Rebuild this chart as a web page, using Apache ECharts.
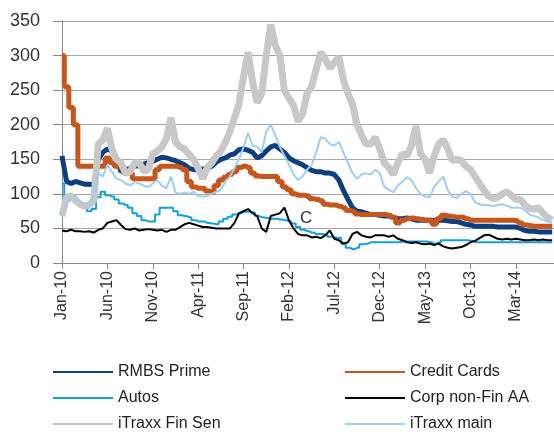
<!DOCTYPE html>
<html>
<head>
<meta charset="utf-8">
<script src="https://cdn.jsdelivr.net/npm/echarts@6/dist/echarts.min.js"></script>
<style>
  html, body { margin: 0; padding: 0; background: #fff; }
  #chart { width: 554px; height: 432px; }
</style>
</head>
<body>
<div id="chart"></div>
<script>
// x position = months since Jan-10, sampled every half month
const months = Array.from({ length: 109 }, (_, i) => i / 2)
const tickLabels = ['Jan-10', 'Jun-10', 'Nov-10', 'Apr-11', 'Sep-11', 'Feb-12', 'Jul-12', 'Dec-12', 'May-13', 'Oct-13', 'Mar-14']

const rmbsPrime = [155,118,115,118,116,114,114,113,150,160,
  165,162,150,132,135,137,140,141,143,145,
  147,150,153,152,150,148,145,142,137,135,
  135,136,137,140,146,150,152,156,158,164,
  165,163,160,152,155,162,168,170,165,160,
  152,148,145,142,138,134,132,132,130,130,
  128,120,105,92,80,75,74,72,70,70,
  69,68,68,66,64,64,65,64,62,62,
  62,62,62,62,62,61,60,60,58,56,
  55,53,53,53,53,53,52,52,52,52,
  52,50,47,46,46,45,45,45,45]
const creditCards = [300,255,225,200,140,140,140,140,140,140,
  152,145,140,138,130,130,122,122,122,122,
  122,135,140,140,140,140,138,135,118,110,
  108,108,104,102,112,120,124,128,132,138,
  140,138,130,126,125,125,125,125,118,110,
  106,100,98,98,97,93,92,90,85,84,
  84,82,80,76,75,71,70,70,70,70,
  70,70,69,66,58,62,64,65,64,63,
  62,62,56,64,69,68,67,66,66,64,
  62,62,62,62,62,62,62,62,62,62,
  61,58,55,54,53,53,53,53,53]
const autos = [115,90,92,90,84,80,75,78,95,103,
  98,96,92,86,84,80,72,68,62,60,
  60,70,80,80,80,75,69,68,66,62,
  60,60,58,57,56,60,64,67,70,72,
  74,74,73,68,66,65,64,64,63,62,
  60,57,52,48,46,44,42,42,41,38,
  37,36,28,22,20,22,27,28,30,30,
  30,30,30,30,30,31,31,31,31,31,
  31,30,28,30,33,33,33,33,33,33,
  32,30,30,30,30,30,30,30,30,30,
  30,30,30,30,30,30,30,30,30]
const corpNonFin = [47,46,48,46,46,45,46,44,48,50,
  58,60,62,55,49,48,50,47,48,49,
  48,47,48,45,48,48,52,56,58,56,
  54,52,52,51,50,50,50,50,58,72,
  75,78,72,68,50,45,68,70,72,80,
  62,50,42,40,40,37,38,36,40,47,
  35,33,28,30,42,45,40,38,37,40,
  40,40,38,40,35,33,30,29,30,28,
  27,28,26,28,24,22,21,22,23,26,
  30,32,36,40,41,38,35,34,35,34,
  35,34,33,33,34,33,34,33,33]
const itraxxFinSen = [68,95,97,90,85,82,84,90,172,178,
  195,165,150,145,130,132,145,145,133,135,
  158,162,168,180,210,175,168,165,157,150,
  137,122,138,145,155,162,175,190,210,230,
  270,305,262,232,245,300,345,315,300,250,
  238,228,205,215,245,255,280,305,295,282,
  290,298,265,245,230,200,185,172,172,182,
  165,145,138,128,145,158,155,170,198,158,
  150,130,155,172,178,165,148,150,148,140,
  135,125,115,105,97,93,95,100,103,98,
  92,92,84,79,78,80,72,66,62]
const itraxxMain = [68,85,95,97,88,85,86,100,130,125,
  142,132,122,120,115,112,117,115,112,110,
  115,120,112,108,125,102,100,102,100,103,
  97,96,97,100,103,106,118,125,137,150,
  168,188,170,168,160,190,200,185,168,155,
  143,128,120,125,135,142,160,182,180,172,
  170,175,160,145,130,122,128,130,128,135,
  130,110,106,102,112,118,124,120,108,100,
  96,95,110,118,125,105,96,94,100,104,
  100,88,85,84,84,82,84,85,83,80,
  80,80,76,70,68,66,62,60,58]

const seriesDefs = [
  { name: 'RMBS Prime', data: rmbsPrime, color: '#0d3f80', width: 5 },
  { name: 'Credit Cards', data: creditCards, color: '#c5561c', width: 5, step: 'middle' },
  { name: 'Autos', data: autos, color: '#12a0dc', width: 2, step: 'middle' },
  { name: 'Corp non-Fin AA', data: corpNonFin, color: '#000000', width: 2 },
  { name: 'iTraxx Fin Sen', data: itraxxFinSen, color: '#c8c8c8', width: 7 },
  { name: 'iTraxx main', data: itraxxMain, color: '#a0cdf0', width: 2 }
]

const chart = echarts.init(document.getElementById('chart'))

const series = seriesDefs.map(s => {
  const item = {
    name: s.name,
    type: 'line',
    symbol: 'none',
    step: s.step || false,
    data: s.data.map((v, i) => [months[i], v]),
    itemStyle: { color: s.color },
    lineStyle: { color: s.color, width: s.width }
  }
  if (s.name === 'Corp non-Fin AA') {
    // the stray "C" label sitting above the black line
    item.markPoint = {
      symbol: 'circle',
      symbolSize: 0,
      label: { show: true, formatter: 'C', color: '#333', fontSize: 17, fontFamily: 'Liberation Sans' },
      data: [{ coord: [26.9, 64] }]
    }
  }
  return item
})

const legendText = { fontSize: 16, color: '#222', fontFamily: 'Liberation Sans' }

chart.setOption({
  animation: false,
  grid: { left: 62, right: 0, top: 21, bottom: 169 },
  xAxis: {
    type: 'value',
    min: 0,
    max: 54.2,
    interval: 5,
    axisLine: { lineStyle: { color: '#888', width: 1 } },
    axisTick: { length: 6, lineStyle: { color: '#888' } },
    splitLine: { show: false },
    axisLabel: {
      rotate: 90,
      margin: 8,
      fontSize: 16,
      color: '#333',
      fontFamily: 'Liberation Sans',
      formatter: v => (v % 5 === 0 ? tickLabels[v / 5] || '' : '')
    }
  },
  yAxis: {
    type: 'value',
    min: 0,
    max: 350,
    interval: 50,
    axisLine: { show: true, lineStyle: { color: '#888', width: 1 } },
    axisTick: { show: true, length: 9, lineStyle: { color: '#888' } },
    splitLine: { lineStyle: { color: '#a6a6a6', width: 1 } },
    axisLabel: { fontSize: 18, color: '#333', margin: 22, fontFamily: 'Liberation Sans' }
  },
  legend: [
    {
      data: ['RMBS Prime', 'Autos', 'iTraxx Fin Sen'],
      orient: 'vertical', left: 52, top: 364, padding: 0, itemGap: 10,
      itemWidth: 60, itemHeight: 14, textStyle: legendText,
      itemStyle: { opacity: 0 }
    },
    {
      data: ['Credit Cards', 'Corp non-Fin AA', 'iTraxx main'],
      orient: 'vertical', left: 344, top: 364, padding: 0, itemGap: 10,
      itemWidth: 60, itemHeight: 14, textStyle: legendText,
      itemStyle: { opacity: 0 }
    }
  ],
  series: series
})
</script>
</body>
</html>
